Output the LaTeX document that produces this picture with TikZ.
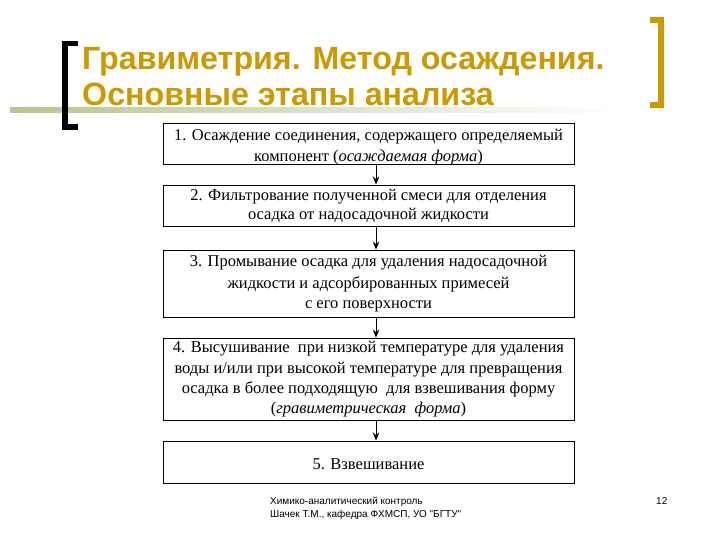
\documentclass[tikz,border=0pt]{standalone}
\usepackage{fontspec}
\setmainfont{Liberation Serif}
\newfontfamily\titlefont{Liberation Sans}
\usetikzlibrary{arrows.meta}
\definecolor{gold}{RGB}{204,153,0}
\definecolor{olivebar}{RGB}{184,197,142}
\begin{document}
\begin{tikzpicture}[x=1pt,y=-1pt,
  stepbox/.style={draw=black, line width=0.9pt, minimum width=411pt, inner sep=0pt, anchor=center},
  txt/.style={anchor=base, inner sep=0pt, font=\fontsize{16.5}{20}\selectfont},
  ttl/.style={anchor=base west, inner sep=0pt, text=gold, font=\titlefont\bfseries\fontsize{32.2}{36}\selectfont},
  foot/.style={anchor=base west, inner sep=0pt, font=\titlefont\fontsize{10}{12}\selectfont},
  flow/.style={-{Stealth[length=8pt,width=6.5pt]}, line width=0.9pt, draw=black}]
\useasboundingbox (0,0) rectangle (720,540);
\fill[white] (0,0) rectangle (720,540);
% green bar under title
\shade[left color=olivebar, right color=white] (10,107.5) rectangle (620,112.5);
% brackets
\fill[black] (62,41) rectangle (68,130);
\fill[black] (62,41) rectangle (78,46);
\fill[black] (62,124) rectangle (78,130);
\fill[gold] (658,17) rectangle (664,108);
\fill[gold] (650,17) rectangle (664,23);
\fill[gold] (650,102) rectangle (664,108);
% title
\node[ttl] (title1) at (82,70) {Гравиметрия. Метод осаждения.};
\node[ttl] (title2) at (82,106) {Основные этапы анализа};
% boxes
\node[stepbox, minimum height=41pt] (b1) at (368.5,143.5) {};
\node[stepbox, minimum height=41pt] (b2) at (368.5,205.5) {};
\node[stepbox, minimum height=67pt] (b3) at (368.5,283.5) {};
\node[stepbox, minimum height=82pt] (b4) at (368.5,379) {};
\node[stepbox, minimum height=42pt] (b5) at (368.5,462) {};
\draw[line width=1.8pt] (b4.south west) -- (b4.south east);
\draw[line width=1.8pt] (b5.south west) -- (b5.south east);
% texts
\node[txt] (t1a) at (368.5,141) {1. Осаждение соединения, содержащего определяемый};
\node[txt] (t1b) at (368.5,161.5) {компонент (\textit{осаждаемая форма})};
\node[txt] (t2a) at (368.5,201) {2. Фильтрование полученной смеси для отделения};
\node[txt] (t2b) at (368.5,219.5) {осадка от надосадочной жидкости};
\node[txt] (t3a) at (368.5,266) {3. Промывание осадка для удаления надосадочной};
\node[txt] (t3b) at (368.5,288) {жидкости и адсорбированных примесей};
\node[txt] (t3c) at (368.5,308.5) {с его поверхности};
\node[txt] (t4a) at (368.5,352) {4. Высушивание\ \ при низкой температуре для удаления};
\node[txt] (t4b) at (368.5,373) {воды и/или при высокой температуре для превращения};
\node[txt] (t4c) at (368.5,393.5) {осадка в более подходящую\ \ для взвешивания форму};
\node[txt] (t4d) at (368.5,413.5) {(\textit{гравиметрическая\ \ форма})};
\node[txt] (t5a) at (368.5,469) {5. Взвешивание};
% arrows
\draw[flow] ([xshift=7.5pt]b1.south) -- ([xshift=7.5pt]b2.north);
\draw[flow] ([xshift=7.5pt]b2.south) -- ([xshift=7.5pt]b3.north);
\draw[flow] ([xshift=7.5pt]b3.south) -- ([xshift=7.5pt]b4.north);
\draw[flow] ([xshift=7.5pt]b4.south) -- ([xshift=7.5pt]b5.north);
% footer
\node[foot] (f1) at (270,504) {Химико-аналитический контроль};
\node[foot] (f2) at (270,517) {Шачек Т.М., кафедра ФХМСП, УО "БГТУ"};
\node[foot] (pg) at (656,504) {12};
\end{tikzpicture}
\end{document}
